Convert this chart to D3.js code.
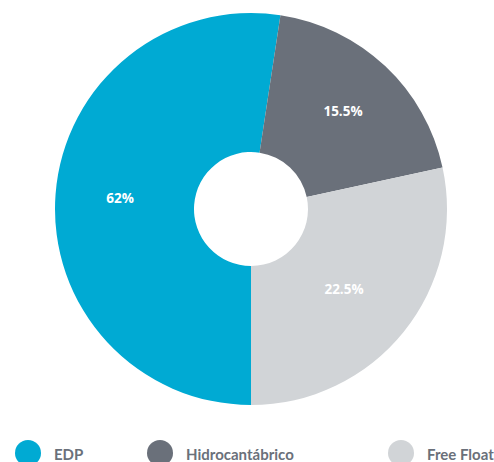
<!DOCTYPE html>
<html>
<head>
<meta charset="utf-8">
<script src="https://cdn.jsdelivr.net/npm/d3@7"></script>
<style>
  html, body { margin: 0; padding: 0; background: #fff; }
  svg { display: block; }
</style>
</head>
<body>
<svg id="chart" width="494" height="462"></svg>
<script>
// Data
const categories = ["EDP", "Hidrocantábrico", "Free Float"];
// slice sizes as drawn in the picture
const sliceValues = [52.4, 19.2, 28.4];
// labels printed on the slices
const sliceLabels = ["62%", "15.5%", "22.5%"];
const colors = ["#00aad3", "#6a707a", "#d1d4d7"];

const svg = d3.select("#chart");
const cx = 251, cy = 209, outerR = 196, innerR = 57;

const pie = d3.pie().sort(null).value(d => d.value)
  .startAngle(Math.PI).endAngle(3 * Math.PI);
const data = categories.map((c, i) => ({ cat: c, value: sliceValues[i], label: sliceLabels[i], color: colors[i] }));
const arcs = pie(data);
const arc = d3.arc().innerRadius(innerR).outerRadius(outerR);

const g = svg.append("g").attr("transform", `translate(${cx},${cy})`);
g.selectAll("path.slice").data(arcs).enter().append("path")
  .attr("class", "slice")
  .attr("d", arc)
  .attr("fill", d => d.data.color);

const labelPos = [[-131, -11], [92, -98], [93, 80]];
g.selectAll("text.lbl").data(arcs).enter().append("text")
  .attr("class", "lbl")
  .attr("x", (d, i) => labelPos[i][0])
  .attr("y", (d, i) => labelPos[i][1])
  .attr("text-anchor", "middle")
  .attr("dominant-baseline", "central")
  .attr("fill", "#fff")
  .attr("font-family", "'Open Sans', Lato, sans-serif")
  .attr("font-weight", 700)
  .attr("font-size", 13.5)
  .text(d => d.data.label);

// Legend
const legendX = [28, 160, 401];
const lg = svg.append("g");
const items = lg.selectAll("g.item").data(data).enter().append("g")
  .attr("class", "item")
  .attr("transform", (d, i) => `translate(${legendX[i]},453)`);
items.append("circle").attr("r", 13).attr("fill", d => d.color);
items.append("text")
  .attr("x", 26)
  .attr("y", 6.5)
  .attr("fill", "#6a707a")
  .attr("font-family", "Lato, 'Open Sans', sans-serif")
  .attr("font-weight", 700)
  .attr("font-size", 15)
  .text(d => d.cat);
</script>
</body>
</html>
